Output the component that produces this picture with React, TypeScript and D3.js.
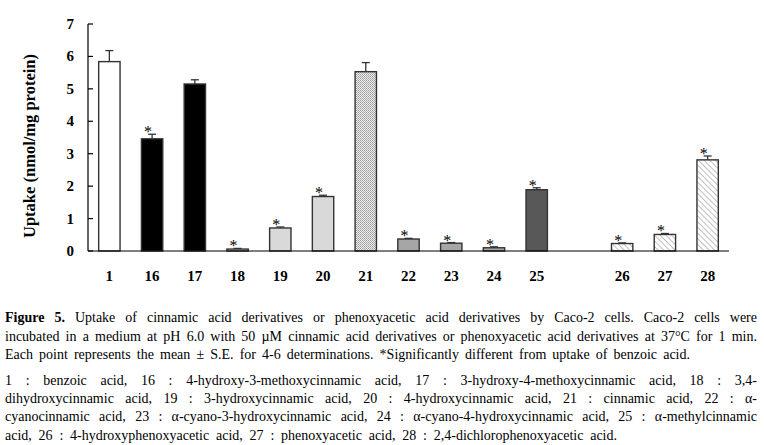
import React, { useRef, useEffect } from 'react';
import * as d3 from 'd3';

// compound numbers, in plot order (a gap sits between 25 and 26)
const compounds = ['1', '16', '17', '18', '19', '20', '21', '22', '23', '24', '25', '26', '27', '28'];
const slots = ['1', '16', '17', '18', '19', '20', '21', '22', '23', '24', '25', 'gap', '26', '27', '28'];
const uptake = [5.84, 3.46, 5.15, 0.06, 0.71, 1.68, 5.53, 0.37, 0.24, 0.10, 1.89, 0.23, 0.51, 2.81];
const stdErr = [0.34, 0.14, 0.13, 0.02, 0.03, 0.04, 0.28, 0.02, 0.02, 0.03, 0.06, 0.02, 0.03, 0.12];
const significant = [false, true, false, true, true, true, false, true, true, true, true, true, true, true];
const groups = ['benzoic', 'methoxy', 'methoxy', 'hydroxy', 'hydroxy', 'hydroxy', 'cinnamic',
  'cyano', 'cyano', 'cyano', 'methyl', 'phenoxy', 'phenoxy', 'phenoxy'];
const yTicks = [0, 1, 2, 3, 4, 5, 6, 7];

const captionLines = [
  { text: '*Figure *5. Uptake of cinnamic acid derivatives or phenoxyacetic acid derivatives by Caco-2 cells. Caco-2 cells were', end: 757, y: 322 },
  { text: 'incubated in a medium at pH 6.0 with 50 µM cinnamic acid derivatives or phenoxyacetic acid derivatives at 37°C for 1 min.', end: 757, y: 341 },
  { text: 'Each point represents the mean ± S.E. for 4-6 determinations. *Significantly different from uptake of benzoic acid.', end: 690, y: 359 },
  { text: '1 : benzoic acid, 16 : 4-hydroxy-3-methoxycinnamic acid, 17 : 3-hydroxy-4-methoxycinnamic acid, 18 : 3,4-', end: 757, y: 385 },
  { text: 'dihydroxycinnamic acid, 19 : 3-hydroxycinnamic acid, 20 : 4-hydroxycinnamic acid, 21 : cinnamic acid, 22 : α-', end: 757, y: 403 },
  { text: 'cyanocinnamic acid, 23 : α-cyano-3-hydroxycinnamic acid, 24 : α-cyano-4-hydroxycinnamic acid, 25 : α-methylcinnamic', end: 757, y: 421 },
  { text: 'acid, 26 : 4-hydroxyphenoxyacetic acid, 27 : phenoxyacetic acid, 28 : 2,4-dichlorophenoxyacetic acid.', end: 617, y: 440 },
];

const fillFor: Record<string, string> = {
  benzoic: '#ffffff',
  methoxy: '#000000',
  hydroxy: '#d9d9d9',
  cinnamic: 'url(#dots)',
  cyano: '#a6a6a6',
  methyl: '#585858',
  phenoxy: 'url(#hatch)',
};

const App: React.FC = () => {
  const svgRef = useRef<SVGSVGElement>(null);

  useEffect(() => {
    if (!svgRef.current) return;
    const width = 764;
    const height = 445;
    const margin = { top: 24, left: 88, right: 35, bottom: 194 };
    const serif = '"Liberation Serif", "Times New Roman", serif';

    d3.select(svgRef.current).selectAll('*').remove();
    const svg = d3.select(svgRef.current).attr('width', width).attr('height', height);

    // patterns
    const defs = svg.append('defs');
    const dots = defs.append('pattern').attr('id', 'dots')
      .attr('width', 2).attr('height', 2).attr('patternUnits', 'userSpaceOnUse');
    dots.append('rect').attr('width', 2).attr('height', 2).attr('fill', '#eeeeee');
    dots.append('rect').attr('width', 1).attr('height', 1).attr('fill', '#9a9a9a');
    dots.append('rect').attr('x', 1).attr('y', 1).attr('width', 1).attr('height', 1).attr('fill', '#b0b0b0');
    const hatch = defs.append('pattern').attr('id', 'hatch')
      .attr('width', 4).attr('height', 4).attr('patternUnits', 'userSpaceOnUse')
      .attr('patternTransform', 'rotate(-45)');
    hatch.append('rect').attr('width', 4).attr('height', 4).attr('fill', '#ffffff');
    hatch.append('line').attr('x1', 0).attr('y1', 0).attr('x2', 0).attr('y2', 4)
      .attr('stroke', '#8c8c8c').attr('stroke-width', 1.1);

    const innerWidth = width - margin.left - margin.right;
    const innerHeight = height - margin.top - margin.bottom;

    const x = d3.scaleBand().domain(slots).range([margin.left, margin.left + innerWidth]).paddingInner(0.5).paddingOuter(0.25);
    const y = d3.scaleLinear().domain([0, 7]).range([margin.top + innerHeight, margin.top]);

    const data = compounds.map((c, i) => ({
      c, v: uptake[i], se: stdErr[i], sig: significant[i], g: groups[i],
    }));

    // error bars (upper only)
    const err = svg.append('g').attr('stroke', '#333').attr('stroke-width', 1.3);
    data.forEach(d => {
      const cx = x(d.c)! + x.bandwidth() / 2;
      err.append('line').attr('x1', cx).attr('x2', cx).attr('y1', y(d.v)).attr('y2', y(d.v + d.se));
      err.append('line').attr('x1', cx - 4).attr('x2', cx + 4).attr('y1', y(d.v + d.se)).attr('y2', y(d.v + d.se));
    });

    // bars
    svg.append('g').selectAll('rect').data(data).enter().append('rect')
      .attr('x', d => x(d.c)!)
      .attr('y', d => y(d.v))
      .attr('width', x.bandwidth())
      .attr('height', d => y(0) - y(d.v))
      .attr('fill', d => fillFor[d.g])
      .attr('stroke', '#333')
      .attr('stroke-width', 1.4);

    // significance marks
    svg.append('g').selectAll('text').data(data.filter(d => d.sig)).enter().append('text')
      .attr('x', d => x(d.c)! + x.bandwidth() / 2 - 4)
      .attr('y', d => y(d.v + d.se) + 3)
      .attr('text-anchor', 'middle')
      .attr('font-family', serif)
      .attr('font-size', 16)
      .text('*');

    // axes
    const axis = svg.append('g').attr('stroke', '#000').attr('stroke-width', 1.2);
    axis.append('line').attr('x1', margin.left).attr('x2', margin.left).attr('y1', y(7)).attr('y2', y(0));
    axis.append('line').attr('x1', margin.left).attr('x2', margin.left + innerWidth).attr('y1', y(0)).attr('y2', y(0));
    yTicks.forEach(t => {
      axis.append('line').attr('x1', margin.left).attr('x2', margin.left + 5).attr('y1', y(t)).attr('y2', y(t));
    });

    svg.append('g').selectAll('text').data(yTicks).enter().append('text')
      .attr('x', margin.left - 14)
      .attr('y', d => y(d) + 5)
      .attr('text-anchor', 'end')
      .attr('font-family', serif).attr('font-size', 15).attr('font-weight', 'bold')
      .text(d => d);

    svg.append('g').selectAll('text').data(compounds).enter().append('text')
      .attr('x', d => x(d)! + x.bandwidth() / 2)
      .attr('y', 281)
      .attr('text-anchor', 'middle')
      .attr('font-family', serif).attr('font-size', 15).attr('font-weight', 'bold')
      .text(d => d);

    svg.append('text')
      .attr('transform', `translate(35,146) rotate(-90)`)
      .attr('text-anchor', 'middle')
      .attr('font-family', serif).attr('font-size', 16.5).attr('font-weight', 'bold')
      .text('Uptake (nmol/mg protein)');

    // caption, justified word by word
    const cap = svg.append('g').attr('font-family', serif).attr('font-size', 14).attr('fill', '#000');
    const startX = 5;
    captionLines.forEach(line => {
      const words = line.text.split(' ').map(w => {
        const bold = w.startsWith('*') && w.length > 1 && w[1] !== 'S';
        return { t: bold ? w.slice(1) : w, bold };
      });
      const nodes = words.map(w => cap.append('text')
        .attr('y', line.y)
        .attr('font-weight', w.bold ? 'bold' : 'normal')
        .text(w.t));
      const widths = nodes.map(n => (n.node() as SVGTextElement).getComputedTextLength());
      const total = d3.sum(widths);
      const gap = (line.end - startX - total) / (words.length - 1);
      let cx = startX;
      nodes.forEach((n, i) => {
        n.attr('x', cx);
        cx += widths[i] + gap;
      });
    });
  }, []);

  return <svg ref={svgRef} style={{ position: 'absolute', left: 0, top: 0, background: '#fff' }}></svg>;
};

export default App;
